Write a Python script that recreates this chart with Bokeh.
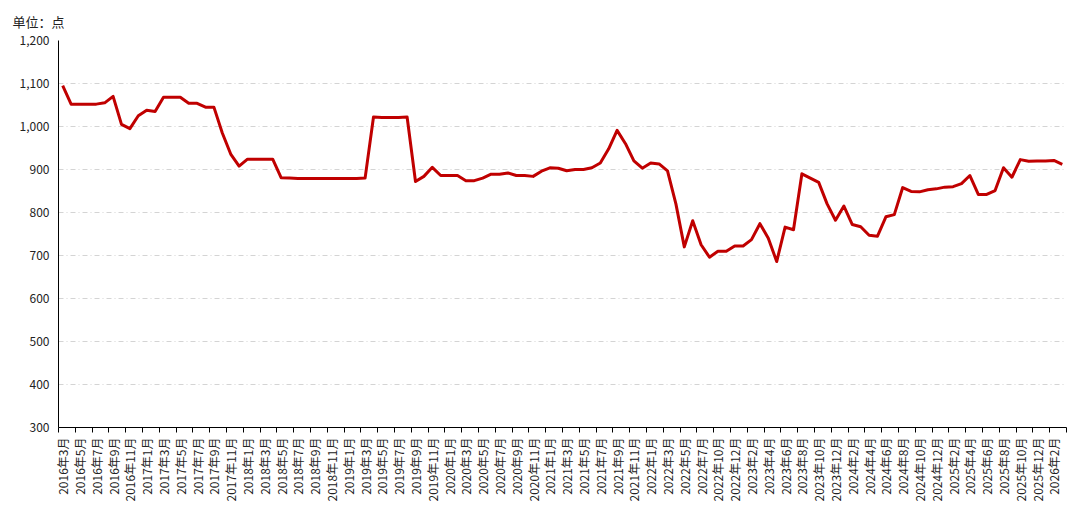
from bokeh.plotting import figure
from bokeh.models import FixedTicker, NumeralTickFormatter, Range1d
from bokeh.embed import file_html
from bokeh.resources import INLINE

# Monthly categories (2022年8月 absent in the source series)
months = [f"{y}年{m}月" for y in range(2016, 2027) for m in range(1, 13)]
months = months[months.index("2016年3月"):months.index("2026年3月") + 1]
months.remove("2022年8月")

values = [
    1095, 1052, 1052, 1052, 1052, 1055, 1070, 1005, 995, 1025,
    1038, 1035, 1068, 1068, 1068, 1054, 1054, 1045, 1045, 985,
    936, 908, 924, 924, 924, 924, 881, 880, 879, 879,
    879, 879, 879, 879, 879, 879, 880, 1022, 1021, 1021,
    1021, 1022, 872, 884, 905, 886, 886, 886, 874, 874,
    880, 889, 889, 892, 886, 886, 884, 896, 904, 903,
    897, 900, 900, 904, 915, 948, 991, 960, 920, 903,
    915, 913, 897, 820, 720, 781, 725, 696, 710, 710,
    722, 722, 737, 774, 740, 686, 766, 760, 890, 880,
    870, 820, 782, 815, 772, 767, 747, 745, 790, 795,
    858, 849, 848, 853, 855, 859, 860, 867, 886, 842,
    842, 851, 904, 882, 923, 919, 920, 920, 921, 912,
]

y_ticks = [300, 400, 500, 600, 700, 800, 900, 1000, 1100, 1200]
unit_title = "单位：点"

n = len(months)
xs = list(range(n))

p = figure(width=1070, height=504, output_backend="svg", toolbar_location=None,
           x_range=Range1d(-0.5, n - 0.5), y_range=Range1d(y_ticks[0], y_ticks[-1]),
           min_border_left=58, min_border_right=4, min_border_bottom=20,
           min_border_top=10)
p.outline_line_color = None
p.background_fill_color = "white"

p.title.text = unit_title
p.title.text_font = "Noto Sans CJK SC"
p.title.text_font_size = "13px"
p.title.text_font_style = "normal"
p.title.text_color = "#222222"
p.title.align = "left"
p.title.offset = -46
p.title.standoff = 19

p.line(xs, values, line_color="#c00000", line_width=3, line_join="round")

# x axis
xt = FixedTicker(ticks=list(range(0, n, 2)),
                 minor_ticks=[i - 0.5 for i in range(0, n + 1, 2)])
p.xaxis.ticker = xt
p.xaxis.major_label_overrides = {i: months[i] for i in range(0, n, 2)}
p.xaxis.major_label_orientation = 1.5707963
p.xaxis.major_tick_out = 0
p.xaxis.major_tick_in = 0
p.xaxis.minor_tick_out = 5
p.xaxis.minor_tick_in = 0
p.xaxis.minor_tick_line_color = "#000000"
p.xaxis.axis_line_color = "#000000"
p.xaxis.major_label_text_font = "Noto Sans CJK SC"
p.xaxis.major_label_text_font_size = "12px"
p.xaxis.major_label_text_color = "#222222"
p.xaxis.major_label_standoff = 5

# y axis
p.yaxis.ticker = FixedTicker(ticks=y_ticks)
p.yaxis.formatter = NumeralTickFormatter(format="0,0")
p.yaxis.major_tick_out = 0
p.yaxis.major_tick_in = 0
p.yaxis.minor_tick_line_color = None
p.yaxis.axis_line_color = "#000000"
p.yaxis.major_label_text_font = "Noto Sans CJK SC"
p.yaxis.major_label_text_font_size = "12px"
p.yaxis.major_label_text_color = "#222222"
p.yaxis.major_label_standoff = 9

p.xgrid.grid_line_color = None
p.ygrid.grid_line_color = "#d4d4d4"
p.ygrid.grid_line_dash = "5 3 1 3"
p.ygrid.grid_line_width = 1

open("out.html", "w").write(file_html(p, INLINE))
